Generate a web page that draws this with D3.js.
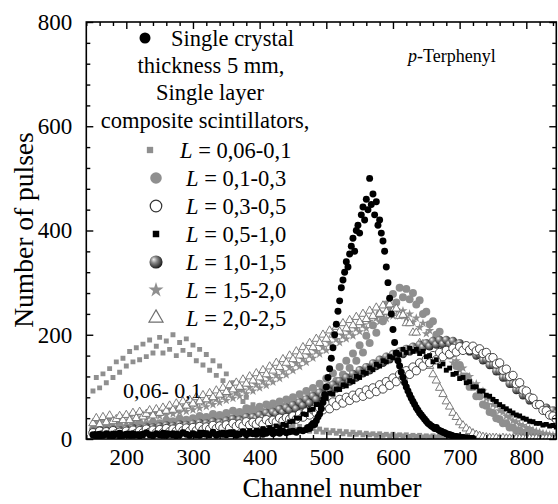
<!DOCTYPE html>
<html><head><meta charset="utf-8">
<script src="https://cdn.jsdelivr.net/npm/d3@7"></script>
<style>body{margin:0;background:#fff}svg{display:block}text{font-family:"Liberation Serif","Times New Roman","DejaVu Serif",serif;fill:#000}</style>
</head><body><svg id="c" width="558" height="504"></svg>
<script>
// ---- axis settings / tick labels ----
const xDomain = [140, 845];
const yDomain = [0, 800];
const xMajor = [200, 300, 400, 500, 600, 700, 800];
const yMajor = [0, 200, 400, 600, 800];
const xTitle = "Channel number";
const yTitle = "Number of pulses";

// ---- data (channel grids: start + step) ----
const gridStart = 150, gridStep = 5;
const singleLowStart = 150, singleLowStep = 5;
const singleLow = [8,6,9,7,10,8,6,9,11,7, 9,7,10,8,6,9,12,8,7,10, 8,11,7,9,10,6,8,12,9,7,
  10,8,7,11,9,8,13,7,10,9, 8,12,10,7,9,14,8,11,10,9, 12,9,11,14,10,13,11,15,12,14, 15,13,17,16];
const singlePeakStart = 470, singlePeakStep = 2.5;
const singlePeak = [18,22,20,26,30,28,35,42,48,58,70,
  85,100,118,135,155,175,200,220,245,265,
  290,305,320,340,330,355,370,385,360,400,
  410,395,430,445,420,460,440,500,450,470,
  430,455,410,420,395,380,360,330,300,270,
  240,210,185,165,150,140,128,118,108,100,
  92,85,78,72,66,60,55,50,46,42,
  38,34,30,28,25,23,20,22,18,16,
  15,13,12,10,9,8,7,6,5,5,
  4,4,3,3,2,2,2,1,1,1];
const L006 = [92,118,98,125,108,135,118,148,128,155, 140,168,148,175,152,182,158,190,165,178,
  195,165,188,172,200,160,185,170,192,162, 180,150,172,142,162,132,150,122,140,112,
  125,98,108,88,95,72,80,60,66,48, 52,38,44,32,38,26,32,24,30,22,
  26,18,24,16,22,15,20,14,19,13, 17,12,16,11,15,10,14,9,13,9,
  12,8,11,8,10,7,10,7,9,6, 9,6,8,6,8,5,7,5,7,4,
  6,4,6,4,5,3,5,3,4,3, 4,3,4,2,3,2,3,2,3,2, 3,2,2,1,2,1,2,1,2,1, 2,1,1,1,1,0,1,0,1,0];
const L01 = [18,12,22,14,24,16,20,13,25,17, 22,15,28,19,30,21,27,18,32,24,
  30,22,36,26,34,27,39,29,37,31, 40,30,44,34,42,36,48,37,46,40,
  50,40,54,44,52,47,59,48,57,52, 62,52,66,56,68,59,72,62,76,67,
  80,70,86,75,92,82,98,88,106,96, 116,102,126,112,138,124,150,136,164,150,
  180,166,198,184,218,204,240,226,258,248, 278,262,290,272,288,268,280,258,266,240,
  244,220,226,200,206,180,186,160,164,140, 142,120,120,100,100,82,82,66,64,52,
  50,40,38,30,30,22,22,16,16,12, 12,9,9,7,7,5,5,4,4,3];
const L03 = [12,7,15,9,14,8,16,10,13,9, 15,10,17,11,16,12,19,13,17,12,
  18,12,20,14,19,15,22,16,21,15, 22,16,24,18,23,19,26,20,25,21,
  27,21,30,24,29,25,33,27,32,28, 34,28,37,31,36,33,40,35,41,38,
  44,38,48,42,52,46,56,50,60,56, 66,58,71,64,76,69,80,74,84,79,
  89,82,94,86,98,91,104,96,110,103, 117,110,124,116,131,124,138,131,146,140,
  153,146,160,152,166,158,170,163,174,167, 177,170,179,171,178,169,173,164,166,156,
  156,144,146,132,134,120,122,106,108,94, 92,80,78,66,66,55,54,46,44,38];
const L05 = [6,10,4,9,7,5,11,8,4,9, 7,11,5,8,10,6,12,8,5,10,
  8,5,12,9,6,11,7,13,9,6, 11,7,13,8,12,7,14,10,8,13,
  12,8,14,11,9,15,12,16,13,17, 16,20,17,22,19,25,22,28,26,33,
  34,40,40,48,47,56,57,66,66,76, 78,88,86,96,95,104,102,112,110,120,
  118,128,126,136,133,143,140,150,148,158, 156,166,162,172,166,174,168,172,164,168,
  158,160,148,152,140,144,132,136,124,126, 116,118,108,110,100,100,92,92,84,82,
  76,72,66,62,58,54,50,46,44,40, 38,34,33,30,30,27,28,25,26,23];
const L10 = [14,9,17,11,16,12,18,13,17,14, 19,13,21,15,20,16,23,17,22,18,
  24,18,26,20,25,21,28,22,27,23, 29,23,31,25,30,26,33,27,32,29,
  35,29,38,32,37,34,42,36,42,39, 46,40,50,44,52,48,57,51,60,55,
  65,58,70,64,76,69,82,76,89,83, 98,90,104,97,111,104,118,110,125,118,
  132,126,138,132,145,140,152,146,158,153, 163,158,168,163,173,168,177,172,181,176,
  184,178,188,181,190,182,190,182,188,180, 184,175,178,168,170,160,162,151,152,142,
  142,130,130,118,118,106,106,94,94,84, 84,74,75,66,67,59,60,54,55,49];
const L15 = [24,32,22,35,26,38,28,36,30,40, 32,42,35,45,37,47,39,49,41,50,
  44,53,46,56,48,58,51,61,53,64, 56,67,59,70,62,73,66,77,70,81,
  74,85,78,89,82,94,87,99,92,104, 98,110,103,116,109,122,116,129,123,137,
  131,145,139,153,147,161,155,168,163,176, 170,184,177,191,185,198,192,205,198,212,
  206,219,212,226,219,232,225,238,231,243, 236,248,236,246,232,240,224,232,214,222,
  202,208,188,194,174,180,160,166,146,150, 132,136,118,120,104,106,90,92,78,78,
  66,64,54,52,44,42,35,33,28,26, 22,20,17,15,13,11,10,8,7,6];
const L20 = [30,40,28,42,32,45,34,38,44,36, 46,36,50,40,52,43,48,55,45,57,
  50,60,54,64,56,68,60,72,64,75, 68,80,72,84,76,88,80,93,85,98,
  90,103,95,108,100,114,106,120,112,126, 118,132,124,139,131,146,138,153,146,160,
  153,168,160,176,168,184,176,192,184,200, 192,208,200,215,206,222,212,228,218,234,
  224,240,230,246,236,252,240,256,244,258, 246,250,236,238,222,222,204,204,184,182,
  150,140,124,112,98,86,72,62,50,42, 32,26,20,15,11,8,6,4,3,2,
  2,2,1,2,1,1,1,1,1,1, 1,1,1,1,1,1,1,1,1,1];

const legendHeader = ["Single crystal", "thickness 5 mm,", "Single layer", "composite scintillators,"];
const legendRanges = ["0,06-0,1", "0,1-0,3", "0,3-0,5", "0,5-1,0", "1,0-1,5", "1,5-2,0", "2,0-2,5"];
const sampleLabel = "Terphenyl";
const humpLabel = "0,06- 0,1";

// ---- drawing ----
const svg = d3.select("#c");
const M = {l: 86.3, r: 556.3, t: 22, b: 439};
const x = d3.scaleLinear().domain(xDomain).range([M.l, M.r]);
const y = d3.scaleLinear().domain(yDomain).range([M.b, M.t]);
const GREY = "#8f8f8f";
const FONT = "Liberation Serif, Times New Roman, DejaVu Serif, serif";

const defs = svg.append("defs");
defs.append("clipPath").attr("id", "plot").append("rect")
  .attr("x", M.l).attr("y", M.t).attr("width", M.r - M.l).attr("height", M.b - M.t);
const grad = defs.append("radialGradient").attr("id", "sph").attr("cx", "40%").attr("cy", "40%").attr("r", "60%").attr("fx", "32%").attr("fy", "30%");
grad.append("stop").attr("offset", "0%").attr("stop-color", "#f2f2f2");
grad.append("stop").attr("offset", "40%").attr("stop-color", "#8a8a8a");
grad.append("stop").attr("offset", "100%").attr("stop-color", "#1e1e1e");

function pts(vals, start, step) { return vals.map((v, i) => [start + i * step, v]); }

const styles = {
  sq:   {type: d3.symbolSquare, size: 24, legSize: 40, fill: GREY, stroke: "none"},
  gc:   {type: d3.symbolCircle, size: 50, legSize: 105, fill: GREY, stroke: "none"},
  oc:   {type: d3.symbolCircle, size: 55, legSize: 105, fill: "#fff", stroke: "#333", sw: 0.9},
  bs:   {type: d3.symbolSquare, size: 24, legSize: 42, fill: "#000", stroke: "none"},
  sp:   {type: d3.symbolCircle, size: 55, legSize: 135, fill: "url(#sph)", stroke: "none"},
  st:   {type: d3.symbolStar, size: 26, legSize: 70, fill: GREY, stroke: "none"},
  tr:   {type: d3.symbolTriangle, size: 30, legSize: 85, fill: "#fff", stroke: "#6e6e6e", sw: 0.9},
  sc:   {type: d3.symbolCircle, size: 38, legSize: 95, fill: "#000", stroke: "none"}
};

const series = [
  {key: "sq", data: pts(L006, gridStart, gridStep)},
  {key: "gc", data: pts(L01, gridStart, gridStep)},
  {key: "st", data: pts(L15, gridStart, gridStep)},
  {key: "tr", data: pts(L20, gridStart, gridStep)},
  {key: "sp", data: pts(L10, gridStart, gridStep)},
  {key: "oc", data: pts(L03, gridStart, gridStep)},
  {key: "bs", data: pts(L05, gridStart, gridStep)},
  {key: "sc", data: pts(singleLow, singleLowStart, singleLowStep).concat(pts(singlePeak, singlePeakStart, singlePeakStep))}
];

const gPlot = svg.append("g").attr("clip-path", "url(#plot)");
series.forEach(s => {
  const st = styles[s.key];
  const sym = d3.symbol().type(st.type).size(st.size);
  gPlot.append("g").selectAll("path").data(s.data).join("path")
    .attr("transform", d => `translate(${x(d[0])},${y(d[1])})`)
    .attr("d", sym)
    .attr("fill", st.fill).attr("stroke", st.stroke).attr("stroke-width", st.sw || 0);
});

// axes with inward ticks on all sides
const xMinor = d3.range(xDomain[0], xDomain[1] + 1, 20).filter(v => !xMajor.includes(v));
const yMinor = d3.range(0, 801, 40).filter(v => !yMajor.includes(v));
const fsTick = 23;
const axB = d3.axisBottom(x).tickValues(xMajor).tickSize(-7).tickPadding(10).tickFormat(d3.format("d"));
const axBm = d3.axisBottom(x).tickValues(xMinor).tickSize(-4).tickFormat("");
const axT = d3.axisTop(x).tickValues(xMajor).tickSize(-7).tickFormat("");
const axTm = d3.axisTop(x).tickValues(xMinor).tickSize(-4).tickFormat("");
const axL = d3.axisLeft(y).tickValues(yMajor).tickSize(-7).tickPadding(14).tickFormat(d3.format("d"));
const axLm = d3.axisLeft(y).tickValues(yMinor).tickSize(-4).tickFormat("");
const axR = d3.axisRight(y).tickValues(yMajor).tickSize(-7).tickFormat("");
const axRm = d3.axisRight(y).tickValues(yMinor).tickSize(-4).tickFormat("");

function put(ax, tr) {
  const g = svg.append("g").attr("transform", tr).call(ax).attr("font-family", FONT);
  g.select(".domain").remove();
  g.selectAll("line").attr("stroke", "#000").attr("stroke-width", 1.4);
  g.selectAll("text").attr("font-size", fsTick).attr("font-family", FONT).attr("fill", "#000");
  return g;
}
put(axB, `translate(0,${M.b})`); put(axBm, `translate(0,${M.b})`);
put(axT, `translate(0,${M.t})`); put(axTm, `translate(0,${M.t})`);
put(axL, `translate(${M.l},0)`); put(axLm, `translate(${M.l},0)`);
put(axR, `translate(${M.r},0)`); put(axRm, `translate(${M.r},0)`);

svg.append("rect").attr("x", M.l).attr("y", M.t).attr("width", M.r - M.l).attr("height", M.b - M.t)
  .attr("fill", "none").attr("stroke", "#000").attr("stroke-width", 1.6);

// titles
svg.append("text").attr("x", 332).attr("y", 497).attr("text-anchor", "middle").attr("font-size", 27).text(xTitle);
svg.append("text").attr("transform", "translate(33,230) rotate(-90)").attr("text-anchor", "middle").attr("font-size", 27.5).text(yTitle);

// annotations
const ann = svg.append("text").attr("x", 408).attr("y", 62).attr("font-size", 18);
ann.append("tspan").attr("font-style", "italic").text("p");
ann.append("tspan").text("-" + sampleLabel);
svg.append("text").attr("x", 123).attr("y", 398).attr("font-size", 22).text(humpLabel);

// legend
const fsLeg = 22.5;
const lg = svg.append("g");
function legSym(key, cx, cy) {
  const st = styles[key];
  lg.append("path").attr("transform", `translate(${cx},${cy})`)
    .attr("d", d3.symbol().type(st.type).size(st.legSize))
    .attr("fill", st.fill).attr("stroke", st.stroke).attr("stroke-width", st.sw ? st.sw + 0.3 : 0);
}
legSym("sc", 145, 38);
lg.append("text").attr("x", 171).attr("y", 46).attr("font-size", fsLeg).text(legendHeader[0]);
lg.append("text").attr("x", 211).attr("y", 73).attr("text-anchor", "middle").attr("font-size", fsLeg).text(legendHeader[1]);
lg.append("text").attr("x", 210).attr("y", 100).attr("text-anchor", "middle").attr("font-size", fsLeg).text(legendHeader[2]);
lg.append("text").attr("x", 205).attr("y", 128).attr("text-anchor", "middle").attr("font-size", fsLeg).text(legendHeader[3]);
const legKeys = ["sq", "gc", "oc", "bs", "sp", "st", "tr"];
legKeys.forEach((k, i) => {
  const cy = 150 + i * 28;
  legSym(k, i === 0 ? 150 : 156, cy);
  const t = lg.append("text").attr("x", i === 0 ? 180 : 186).attr("y", cy + 8).attr("font-size", fsLeg);
  t.append("tspan").attr("font-style", "italic").text("L");
  t.append("tspan").text(" = " + legendRanges[i]);
});
</script>
</body></html>
